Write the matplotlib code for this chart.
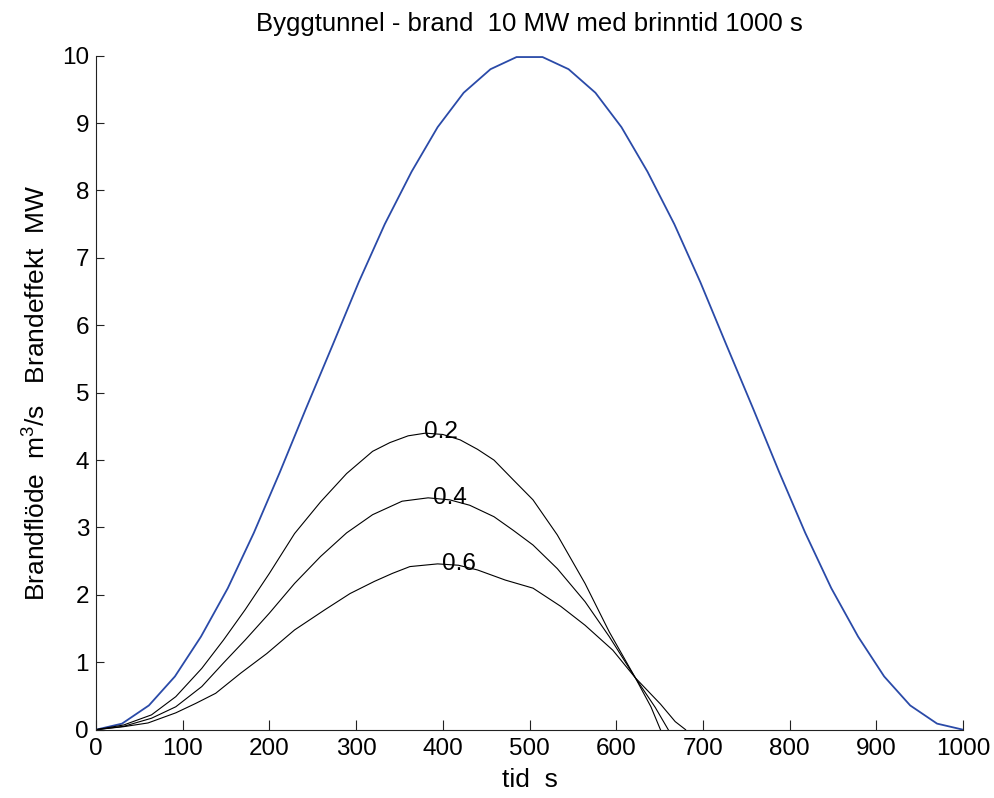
import numpy as np
import matplotlib
matplotlib.use('Agg')
import matplotlib.pyplot as plt

plt.rcParams['font.family'] = ['Liberation Sans', 'DejaVu Sans']
plt.rcParams['mathtext.fontset'] = 'custom'
plt.rcParams['mathtext.rm'] = 'Liberation Sans'
plt.rcParams['mathtext.it'] = 'Liberation Sans'

# brand effect (MW) vs time (s)
t_fire = [0, 30, 61, 91, 121, 152, 182, 212, 242, 273, 303, 333, 364, 394, 424, 455, 485,
          515, 545, 576, 606, 636, 667, 697, 727, 758, 788, 818, 848, 879, 909, 939, 970, 1000]
q_fire = [0, 0.09, 0.36, 0.79, 1.38, 2.10, 2.92, 3.82, 4.76, 5.71, 6.64, 7.50, 8.28, 8.94, 9.45, 9.80, 9.98,
          9.98, 9.80, 9.45, 8.94, 8.28, 7.50, 6.64, 5.71, 4.76, 3.82, 2.92, 2.10, 1.38, 0.79, 0.36, 0.09, 0]

# brand flow (m3/s) for the three parameter values
t_02 = [0, 32, 64, 92, 122, 147, 172, 200, 229, 259, 289, 319, 339, 360, 380, 400, 420, 440, 459, 481, 504, 532, 564, 592, 622, 640, 651]
v_02 = [0, 0.07, 0.22, 0.49, 0.91, 1.33, 1.78, 2.32, 2.91, 3.38, 3.80, 4.13, 4.26, 4.36, 4.40, 4.38, 4.30, 4.16, 4.00, 3.71, 3.41, 2.89, 2.17, 1.45, 0.77, 0.34, 0]

t_04 = [0, 32, 64, 92, 122, 147, 172, 200, 229, 259, 289, 319, 353, 383, 408, 431, 459, 481, 504, 532, 564, 592, 622, 645, 660]
v_04 = [0, 0.05, 0.17, 0.34, 0.64, 0.99, 1.33, 1.73, 2.17, 2.57, 2.92, 3.19, 3.39, 3.44, 3.41, 3.33, 3.16, 2.96, 2.74, 2.39, 1.90, 1.38, 0.77, 0.33, 0]

t_06 = [0, 32, 60, 92, 115, 138, 167, 197, 229, 264, 293, 321, 342, 362, 394, 418, 440, 472, 504, 536, 564, 596, 622, 651, 668, 680]
v_06 = [0, 0.045, 0.10, 0.25, 0.39, 0.54, 0.84, 1.13, 1.48, 1.78, 2.02, 2.20, 2.32, 2.42, 2.46, 2.44, 2.37, 2.22, 2.10, 1.83, 1.55, 1.18, 0.77, 0.38, 0.12, 0]

labels = ['0.2', '0.4', '0.6']
label_pos = [(398, 4.42), (408, 3.44), (418, 2.46)]

fig = plt.figure(figsize=(9.95, 7.98), dpi=100)
ax = fig.add_axes([0.0965, 0.0856, 0.8714, 0.8446])

ax.plot(t_fire, q_fire, color='#2a4aa8', lw=1.3)
for tt, vv in [(t_02, v_02), (t_04, v_04), (t_06, v_06)]:
    ax.plot(tt, vv, color='black', lw=0.8)
for lab, (x, y) in zip(labels, label_pos):
    ax.text(x, y, lab, fontsize=17.5, ha='center', va='center')

ax.set_xlim(0, 1000)
ax.set_ylim(0, 10)
ax.set_xticks(np.arange(0, 1001, 100))
ax.set_yticks(np.arange(0, 11, 1))
ax.spines['top'].set_visible(False)
ax.spines['right'].set_visible(False)
for s in ['left', 'bottom']:
    ax.spines[s].set_linewidth(0.8)
    ax.spines[s].set_color('#222222')
ax.tick_params(axis='both', direction='in', labelsize=17.5, width=0.8, color='#222222')
ax.tick_params(axis='x', length=7.5, pad=6)
ax.tick_params(axis='y', length=5.5, pad=5)

ax.set_title('Byggtunnel - brand  10 MW med brinntid 1000 s', fontsize=18.5, pad=18)
ax.set_xlabel('tid  s', fontsize=19, labelpad=6)
ax.set_ylabel('Brandflöde  m$^3$/s   Brandeffekt  MW', fontsize=19, labelpad=8)

fig.savefig('out.png', dpi=100)
